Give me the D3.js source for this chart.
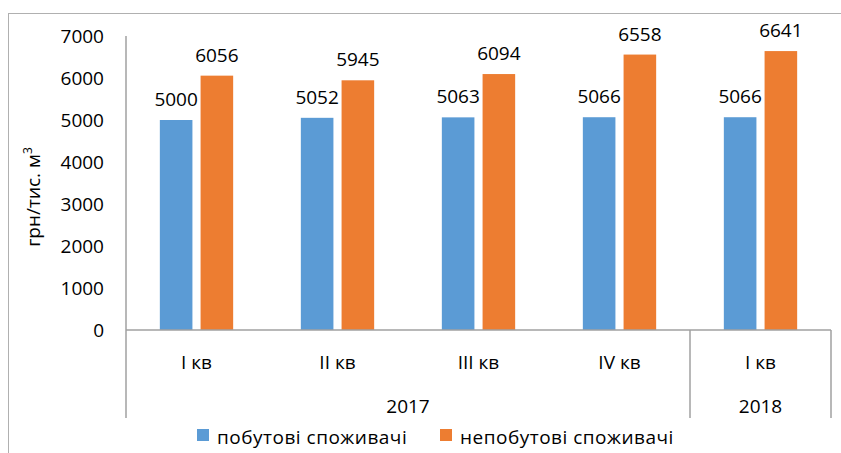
<!DOCTYPE html>
<html>
<head>
<meta charset="utf-8">
<script src="https://cdn.jsdelivr.net/npm/d3@7"></script>
<style>
  body { margin: 0; background: #fff; }
  svg { display: block; font-family: "Open Sans", sans-serif; }
</style>
</head>
<body>
<div id="chart"></div>
<script>
// quarters and the year each one belongs to
const quarters = ["I кв", "II кв", "III кв", "IV кв", "I кв"];
const years = ["2017", "2017", "2017", "2017", "2018"];
const seriesNames = ["побутові споживачі", "непобутові споживачі"];
const household = [5000, 5052, 5063, 5066, 5066];
const nonHousehold = [6056, 5945, 6094, 6558, 6641];
const yTicks = [0, 1000, 2000, 3000, 4000, 5000, 6000, 7000];
const colors = ["#5b9bd5", "#ed7d31"];

const width = 841, height = 453;
const margin = { top: 36, right: 10, bottom: 123, left: 126 };
const plotRight = 831;

const svg = d3.select("#chart").append("svg")
    .attr("width", width)
    .attr("height", height);

// outer chart border (runs off the right and bottom edges)
svg.append("rect")
    .attr("x", 8.5).attr("y", 13.5)
    .attr("width", 850).attr("height", 460)
    .attr("fill", "none")
    .attr("stroke", "#b0b0b0");

const x0 = d3.scaleBand()
    .domain(d3.range(quarters.length))
    .range([margin.left, plotRight])
    .padding(0);

const x1 = d3.scaleBand()
    .domain(d3.range(seriesNames.length))
    .range([x0.bandwidth() * 0.24, x0.bandwidth() * 0.76])
    .paddingInner(0.2);

const y = d3.scaleLinear()
    .domain([0, 7000])
    .range([330, 36]);

// y tick labels
svg.append("g")
    .attr("transform", `translate(${margin.left}, 0)`)
    .call(d3.axisLeft(y).tickValues(yTicks).tickFormat(d3.format("d")).tickSize(0).tickPadding(22))
    .call(g => g.select(".domain").remove())
    .selectAll("text")
    .attr("font-size", 19)
    .attr("font-family", "Open Sans")
    .attr("fill", "#000");

// y axis title
const title = svg.append("text")
    .attr("transform", "translate(40, 197) rotate(-90)")
    .attr("text-anchor", "middle")
    .attr("font-size", 19)
    .attr("fill", "#000");
title.append("tspan").text("грн/тис. м");
title.append("tspan").attr("font-size", 12).attr("dy", -8).text("3");

const rows = quarters.map((q, i) => ({ i, vals: [household[i], nonHousehold[i]] }));

const groups = svg.append("g")
    .selectAll("g")
    .data(rows)
    .join("g")
    .attr("transform", d => `translate(${x0(d.i)}, 0)`);

groups.selectAll("rect")
    .data(d => d.vals.map((v, s) => ({ v, s })))
    .join("rect")
    .attr("x", d => x1(d.s))
    .attr("y", d => y(d.v))
    .attr("width", x1.bandwidth())
    .attr("height", d => y(0) - y(d.v))
    .attr("fill", d => colors[d.s]);

groups.selectAll("text.lbl")
    .data(d => d.vals.map((v, s) => ({ v, s })))
    .join("text")
    .attr("class", "lbl")
    .attr("x", d => x1(d.s) + x1.bandwidth() / 2)
    .attr("y", d => y(d.v) - 14)
    .attr("text-anchor", "middle")
    .attr("font-size", 19)
    .attr("fill", "#000")
    .text(d => d.v);

// axis lines
const axisColor = "#a0a0a0";
svg.append("line")
    .attr("x1", margin.left).attr("x2", margin.left)
    .attr("y1", 36).attr("y2", 418)
    .attr("stroke", axisColor).attr("stroke-width", 1.5);
svg.append("line")
    .attr("x1", margin.left).attr("x2", plotRight)
    .attr("y1", y(0)).attr("y2", y(0))
    .attr("stroke", axisColor).attr("stroke-width", 1.5);

// quarter labels
svg.append("g")
    .selectAll("text")
    .data(quarters)
    .join("text")
    .attr("x", (d, i) => x0(i) + x0.bandwidth() / 2)
    .attr("y", 369)
    .attr("text-anchor", "middle")
    .attr("font-size", 19)
    .attr("fill", "#000")
    .text(d => d);

// year groups
const yearGroups = [];
years.forEach((yr, i) => {
    const last = yearGroups[yearGroups.length - 1];
    if (last && last.year === yr) last.end = i;
    else yearGroups.push({ year: yr, start: i, end: i });
});

svg.append("g")
    .selectAll("text")
    .data(yearGroups)
    .join("text")
    .attr("x", d => (x0(d.start) + x0(d.end) + x0.bandwidth()) / 2)
    .attr("y", 413)
    .attr("text-anchor", "middle")
    .attr("font-size", 19)
    .attr("fill", "#000")
    .text(d => d.year);

svg.append("g")
    .selectAll("line")
    .data(yearGroups)
    .join("line")
    .attr("x1", d => x0(d.end) + x0.bandwidth())
    .attr("x2", d => x0(d.end) + x0.bandwidth())
    .attr("y1", y(0)).attr("y2", 418)
    .attr("stroke", axisColor).attr("stroke-width", 1.5);

// legend
const legendX = [197, 440];
const legend = svg.append("g")
    .selectAll("g")
    .data(seriesNames)
    .join("g")
    .attr("transform", (d, i) => `translate(${legendX[i]}, 429)`);
legend.append("rect")
    .attr("width", 12).attr("height", 12)
    .attr("fill", (d, i) => colors[i]);
legend.append("text")
    .attr("x", 20).attr("y", 15)
    .attr("font-size", 19)
    .attr("letter-spacing", 0.5)
    .attr("fill", "#000")
    .text(d => d);
</script>
</body>
</html>
